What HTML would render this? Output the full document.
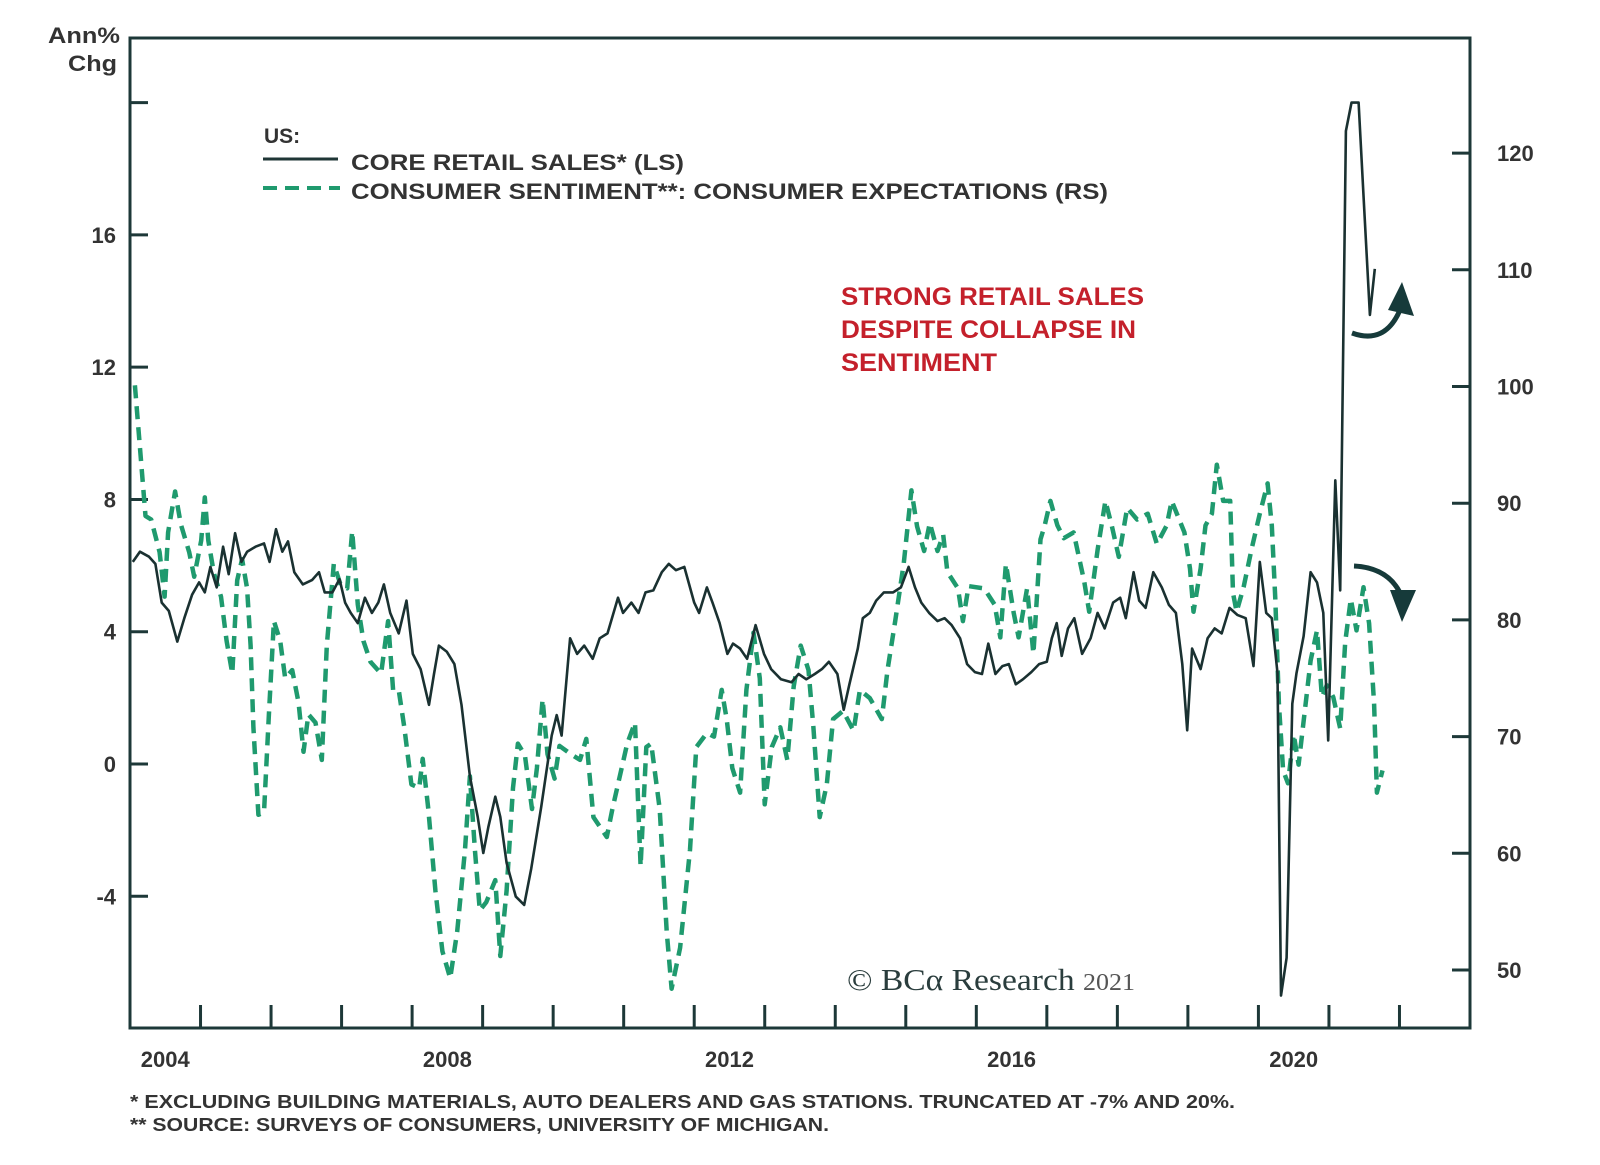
<!DOCTYPE html>
<html><head><meta charset="utf-8"><style>
html,body{margin:0;padding:0;background:#fff;}
svg{display:block;font-family:"Liberation Sans",Arial,sans-serif;}
</style></head><body>
<svg id="chart" width="1600" height="1165" viewBox="0 0 1600 1165" xmlns="http://www.w3.org/2000/svg">
<rect x="0" y="0" width="1600" height="1165" fill="#fff"/>
<g id="axes"></g>
<g id="series"></g>
<text x="48" y="43" textLength="72" lengthAdjust="spacingAndGlyphs" font-size="22" font-weight="bold" fill="#333">Ann%</text>
<text x="68" y="71" textLength="49" lengthAdjust="spacingAndGlyphs" font-size="22" font-weight="bold" fill="#333">Chg</text>
<g>
<text x="264" y="143" font-size="21" font-weight="bold" fill="#333">US:</text>
<line x1="263" y1="159" x2="338" y2="159" stroke="#1f3636" stroke-width="3"/>
<text x="351" y="170" textLength="333" lengthAdjust="spacingAndGlyphs" font-size="22" font-weight="bold" fill="#333">CORE RETAIL SALES* (LS)</text>
<line x1="263" y1="188" x2="340" y2="188" stroke="#1f9a6e" stroke-width="4" stroke-dasharray="14,8"/>
<text x="351" y="199" textLength="757" lengthAdjust="spacingAndGlyphs" font-size="22" font-weight="bold" fill="#333">CONSUMER SENTIMENT**: CONSUMER EXPECTATIONS (RS)</text>
</g>
<g font-size="25" font-weight="bold" fill="#c4202b">
<text x="841" y="305" textLength="303" lengthAdjust="spacingAndGlyphs">STRONG RETAIL SALES</text>
<text x="841" y="338" textLength="295" lengthAdjust="spacingAndGlyphs">DESPITE COLLAPSE IN</text>
<text x="841" y="371" textLength="156" lengthAdjust="spacingAndGlyphs">SENTIMENT</text>
</g>
<g>
<path d="M1352,333 Q1385,345 1400,310" fill="none" stroke="#163a3a" stroke-width="5"/>
<polygon points="1388,310 1414,316 1402,282" fill="#163a3a"/>
</g>
<g>
<path d="M1354,566 Q1392,568 1403,600" fill="none" stroke="#163a3a" stroke-width="5"/>
<polygon points="1390,590 1416,590 1402,622" fill="#163a3a"/>
</g>
<text x="847" y="990" textLength="288" lengthAdjust="spacingAndGlyphs" font-family="Liberation Serif,serif" font-size="31" fill="#2a3d3d">© BCα Research <tspan font-size="24" fill="#555">2021</tspan></text>
<text x="130" y="1108" textLength="1105" lengthAdjust="spacingAndGlyphs" font-size="18" font-weight="bold" fill="#333">*  EXCLUDING BUILDING MATERIALS, AUTO DEALERS AND GAS STATIONS. TRUNCATED AT -7% AND 20%.</text>
<text x="130" y="1131" textLength="699" lengthAdjust="spacingAndGlyphs" font-size="18" font-weight="bold" fill="#333">** SOURCE: SURVEYS OF CONSUMERS, UNIVERSITY OF MICHIGAN.</text>
</svg>
<script>
const retailDates=[2004.04,2004.14,2004.27,2004.36,2004.45,2004.55,2004.67,2004.77,2004.88,2004.98,2005.06,2005.14,2005.23,2005.32,2005.40,2005.49,2005.58,2005.66,2005.78,2005.90,2005.98,2006.07,2006.16,2006.24,2006.33,2006.45,2006.58,2006.68,2006.76,2006.87,2006.97,2007.05,2007.13,2007.23,2007.33,2007.43,2007.52,2007.60,2007.69,2007.81,2007.92,2008.01,2008.12,2008.24,2008.31,2008.38,2008.49,2008.60,2008.70,2008.82,2008.93,2009.01,2009.08,2009.18,2009.25,2009.34,2009.47,2009.59,2009.69,2009.83,2009.98,2010.05,2010.12,2010.24,2010.34,2010.44,2010.56,2010.66,2010.77,2010.92,2010.99,2011.11,2011.21,2011.31,2011.42,2011.54,2011.64,2011.74,2011.86,2012.00,2012.07,2012.18,2012.26,2012.36,2012.47,2012.55,2012.65,2012.75,2012.87,2012.99,2013.09,2013.23,2013.38,2013.48,2013.59,2013.71,2013.81,2013.91,2014.03,2014.12,2014.20,2014.32,2014.39,2014.49,2014.58,2014.69,2014.82,2014.93,2015.04,2015.13,2015.22,2015.33,2015.45,2015.55,2015.65,2015.77,2015.87,2015.98,2016.08,2016.17,2016.27,2016.37,2016.46,2016.56,2016.66,2016.78,2016.89,2017.00,2017.07,2017.14,2017.21,2017.30,2017.39,2017.50,2017.62,2017.72,2017.82,2017.94,2018.04,2018.12,2018.23,2018.31,2018.40,2018.51,2018.63,2018.73,2018.83,2018.92,2018.99,2019.06,2019.18,2019.28,2019.38,2019.48,2019.59,2019.70,2019.82,2019.93,2020.02,2020.11,2020.19,2020.27,2020.32,2020.40,2020.48,2020.54,2020.64,2020.74,2020.83,2020.92,2020.99,2021.09,2021.16,2021.24,2021.32,2021.42,2021.49,2021.58,2021.65];
const retailValues=[6.11,6.42,6.27,6.05,4.88,4.63,3.70,4.41,5.12,5.49,5.19,5.96,5.34,6.57,5.74,6.98,6.11,6.42,6.57,6.67,6.11,7.10,6.42,6.73,5.80,5.43,5.56,5.80,5.19,5.19,5.59,4.88,4.57,4.26,5.03,4.57,4.88,5.43,4.57,3.95,4.94,3.33,2.87,1.79,2.72,3.58,3.40,3.02,1.79,-0.37,-1.60,-2.69,-1.91,-0.99,-1.60,-2.99,-4.01,-4.26,-3.15,-1.30,0.86,1.48,0.86,3.80,3.33,3.58,3.18,3.80,3.95,5.03,4.57,4.88,4.57,5.19,5.25,5.80,6.05,5.86,5.96,4.88,4.57,5.34,4.88,4.26,3.33,3.64,3.49,3.18,4.20,3.33,2.87,2.56,2.47,2.72,2.56,2.72,2.87,3.09,2.72,1.64,2.41,3.49,4.41,4.57,4.94,5.19,5.19,5.34,5.96,5.34,4.88,4.57,4.32,4.41,4.20,3.80,3.02,2.78,2.72,3.64,2.72,2.96,3.02,2.41,2.56,2.78,3.02,3.09,3.80,4.26,3.27,4.10,4.41,3.33,3.80,4.57,4.10,4.88,5.03,4.41,5.80,4.94,4.72,5.80,5.34,4.81,4.57,3.02,1.02,3.49,2.87,3.80,4.10,3.95,4.72,4.51,4.41,2.96,6.11,4.57,4.41,2.75,-7.0,-5.86,1.82,2.75,3.86,5.80,5.49,4.57,0.71,8.58,5.25,19.14,20.0,20.0,17.19,13.58,14.97];
const sentDates=[2004.07,2004.22,2004.30,2004.42,2004.49,2004.54,2004.64,2004.72,2004.84,2004.91,2005.01,2005.06,2005.11,2005.19,2005.29,2005.37,2005.45,2005.52,2005.59,2005.66,2005.71,2005.75,2005.82,2005.90,2005.97,2006.04,2006.13,2006.20,2006.30,2006.39,2006.46,2006.53,2006.63,2006.72,2006.79,2006.89,2006.98,2007.08,2007.15,2007.23,2007.31,2007.41,2007.56,2007.66,2007.73,2007.81,2007.89,2007.99,2008.10,2008.15,2008.23,2008.33,2008.43,2008.54,2008.64,2008.75,2008.82,2008.89,2008.96,2009.05,2009.18,2009.25,2009.34,2009.43,2009.50,2009.60,2009.70,2009.77,2009.85,2009.92,2010.02,2010.09,2010.25,2010.38,2010.47,2010.57,2010.76,2010.84,2011.05,2011.16,2011.24,2011.32,2011.39,2011.51,2011.61,2011.68,2011.80,2011.94,2012.03,2012.18,2012.28,2012.39,2012.46,2012.54,2012.65,2012.74,2012.84,2012.93,2013.00,2013.10,2013.22,2013.32,2013.41,2013.51,2013.62,2013.69,2013.78,2013.88,2013.97,2014.11,2014.26,2014.35,2014.49,2014.66,2014.74,2014.85,2014.97,2015.08,2015.16,2015.26,2015.34,2015.45,2015.53,2015.59,2015.74,2015.81,2015.89,2016.11,2016.26,2016.34,2016.42,2016.53,2016.60,2016.72,2016.81,2016.91,2016.97,2017.05,2017.15,2017.24,2017.38,2017.53,2017.60,2017.72,2017.83,2017.92,2018.02,2018.14,2018.28,2018.43,2018.56,2018.70,2018.77,2018.95,2019.03,2019.08,2019.18,2019.25,2019.34,2019.41,2019.50,2019.60,2019.64,2019.69,2019.79,2019.90,2020.02,2020.13,2020.19,2020.24,2020.29,2020.35,2020.42,2020.50,2020.57,2020.64,2020.74,2020.83,2020.90,2020.97,2021.06,2021.16,2021.23,2021.31,2021.39,2021.49,2021.57,2021.64,2021.68,2021.76];
const sentValues=[100.1,88.9,88.6,85.8,82.0,87.5,91.0,88.2,85.8,83.7,86.8,90.5,86.8,84.0,82.0,78.2,75.4,83.4,85.2,82.7,77.8,70.8,63.3,63.5,71.9,79.9,78.2,75.0,75.7,72.9,68.7,71.9,71.2,68.0,77.8,84.8,83.1,82.7,87.6,81.3,78.2,76.4,75.4,79.9,74.0,74.0,70.8,65.9,65.6,68.1,63.8,56.8,51.6,49.3,53.3,60.3,66.6,60.3,55.1,55.8,57.7,51.2,56.8,65.6,69.4,68.4,63.8,67.3,73.2,68.5,66.4,69.2,68.5,68.0,69.8,63.1,61.4,63.8,69.4,71.2,58.9,69.1,69.4,63.8,53.3,48.4,51.9,60.3,69.1,70.3,70.0,74.0,71.5,67.3,65.2,74.0,78.9,75.0,64.2,69.1,70.8,68.0,74.3,77.8,75.7,70.8,63.1,65.9,71.5,72.2,70.5,74.0,73.3,71.5,75.7,79.9,84.8,91.1,88.0,85.9,88.3,85.9,87.3,84.1,82.7,79.9,82.9,82.7,81.3,78.5,84.8,80.6,78.5,82.7,77.1,86.9,88.1,90.2,88.1,87.0,87.5,83.3,80.7,86.0,90.2,88.1,85.4,89.6,88.6,89.1,86.5,88.1,90.2,87.5,84.4,80.7,84.4,88.1,89.1,93.3,90.2,90.2,82.3,80.7,82.8,86.0,89.1,91.7,88.1,81.8,72.8,67.1,66.0,70.2,67.6,71.3,76.5,79.1,73.4,74.4,73.4,70.7,78.1,81.8,79.1,82.8,79.7,72.8,65.2,67.1];
const leftTicks=[-4,0,4,8,12,16,20];
const leftTickLabels=["-4","0","4","8","12","16",""];
const rightTicks=[50,60,70,80,90,100,110,120];
const rightTickLabels=["50","60","70","80","90","100","110","120"];
const yearTicks=[2005,2006,2007,2008,2009,2010,2011,2012,2013,2014,2015,2016,2017,2018,2019,2020,2021,2022];
const yearLabels=[2004,2008,2012,2016,2020];

const PL=130,PR=1470,PT=38,PB=1028;
function xS(yr){return PL+(yr-2004)*(PR-PL)/19;}
function yL(v){return 764-v*33.07;}
function yR(r){return 970-(r-50)*11.67;}
const NS="http://www.w3.org/2000/svg";
function mk(tag,attrs,parent){const e=document.createElementNS(NS,tag);for(const k in attrs)e.setAttribute(k,attrs[k]);parent.appendChild(e);return e;}
const axes=document.getElementById('axes');
const series=document.getElementById('series');
const C="#1d3838";
const frame=mk('rect',{x:PL,y:PT,width:PR-PL,height:PB-PT,fill:'none',stroke:C,'stroke-width':3},axes);


leftTicks.forEach((v,i)=>{
  const t=mk('line',{x1:PL,x2:PL+18,y1:yL(v),y2:yL(v),stroke:C,'stroke-width':3},axes);
  
  
  if(leftTickLabels[i]){
    const l=mk('text',{x:116,y:yL(v)+8,'text-anchor':'end','font-size':22,'font-weight':'bold',fill:'#333'},axes);
    l.textContent=leftTickLabels[i];
    
    
  }
});
rightTicks.forEach((v,i)=>{
  const t=mk('line',{x1:PR-18,x2:PR,y1:yR(v),y2:yR(v),stroke:C,'stroke-width':3},axes);
  
  
  const l=mk('text',{x:1497,y:yR(v)+8,'font-size':22,'font-weight':'bold',fill:'#333'},axes);
  l.textContent=rightTickLabels[i];
  
  
});
yearTicks.forEach(yr=>{
  const t=mk('line',{x1:xS(yr),x2:xS(yr),y1:PB-23,y2:PB,stroke:C,'stroke-width':3},axes);
  
  
});
yearLabels.forEach(yr=>{
  const l=mk('text',{x:xS(yr+0.5),y:1067,'text-anchor':'middle','font-size':22,'font-weight':'bold',fill:'#333'},axes);
  l.textContent=String(yr);
  
  
});
const sp=sentDates.map((d,i)=>xS(d).toFixed(1)+','+yR(sentValues[i]).toFixed(1)).join(' ');
const sl=mk('polyline',{points:sp,fill:'none',stroke:'#1f9a6e','stroke-width':4.5,'stroke-dasharray':'13,8','stroke-linejoin':'round'},series);


const rp=retailDates.map((d,i)=>xS(d).toFixed(1)+','+yL(retailValues[i]).toFixed(1)).join(' ');
const rl=mk('polyline',{points:rp,fill:'none',stroke:'#1a3131','stroke-width':2.6,'stroke-linejoin':'round'},series);


</script>
</body></html>
